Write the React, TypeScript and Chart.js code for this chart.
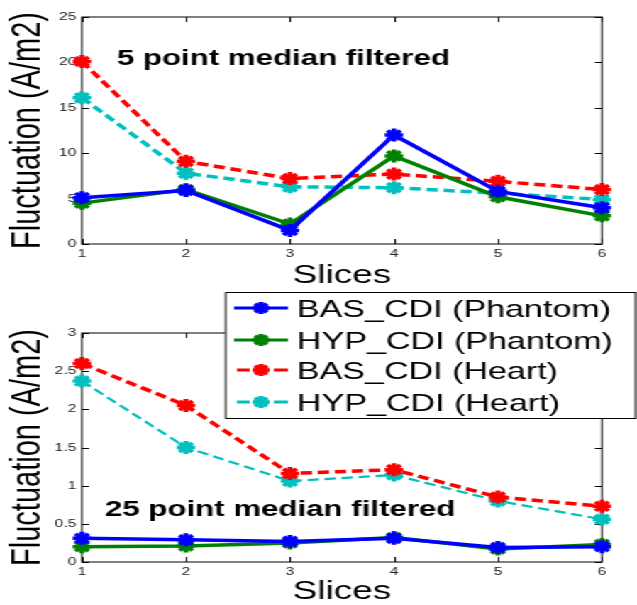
import React, { useEffect, useRef } from "react";
import { Chart, registerables } from "chart.js";

Chart.register(...registerables);

const slices = ["1", "2", "3", "4", "5", "6"];
const seriesNames = ["BAS_CDI (Phantom)", "HYP_CDI (Phantom)", "BAS_CDI (Heart)", "HYP_CDI (Heart)"];
const seriesColors = ["#0000FF", "#008000", "#FF0000", "#00BFBF"];

// 5 point median filtered
const bas5Phantom = [5.1, 5.9, 1.5, 12.0, 5.8, 4.0];
const hyp5Phantom = [4.5, 6.0, 2.2, 9.7, 5.2, 3.1];
const bas5Heart = [20.1, 9.1, 7.2, 7.7, 6.9, 6.0];
const hyp5Heart = [16.1, 7.8, 6.3, 6.2, 5.6, 4.9];

// 25 point median filtered
const bas25Phantom = [0.31, 0.29, 0.27, 0.31, 0.19, 0.2];
const hyp25Phantom = [0.2, 0.21, 0.25, 0.32, 0.17, 0.23];
const bas25Heart = [2.6, 2.05, 1.16, 1.21, 0.85, 0.73];
const hyp25Heart = [2.37, 1.5, 1.06, 1.14, 0.8, 0.56];

const W = 449;
const SX = 637 / W;
const FONT = "'Liberation Sans', Arial, sans-serif";

function makeDatasets(vals: number[][], cyanWidth: number) {
  return vals.map((v, i) => ({
    label: seriesNames[i],
    data: v,
    borderColor: seriesColors[i],
    backgroundColor: seriesColors[i],
    borderWidth: i === 3 ? cyanWidth : 3.5,
    borderDash: i >= 2 ? [8, 4] : [],
    pointStyle: "star" as const,
    pointRadius: 6.5,
    pointBorderWidth: 3.5,
    pointBorderColor: seriesColors[i],
    pointBackgroundColor: seriesColors[i],
    clip: false as const,
    tension: 0,
  }));
}

const framePlugin = {
  id: "frame",
  beforeDatasetsDraw(chart: any) {
    const { ctx, chartArea: a, scales } = chart;
    ctx.save();
    ctx.strokeStyle = "#000";
    ctx.lineWidth = 1;
    ctx.strokeRect(a.left, a.top, a.right - a.left, a.bottom - a.top);
    ctx.beginPath();
    const ys = scales.y;
    ys.ticks.forEach((t: any) => {
      const y = Math.round(ys.getPixelForValue(t.value)) + 0.5;
      ctx.moveTo(a.left, y);
      ctx.lineTo(a.left + 5, y);
      ctx.moveTo(a.right, y);
      ctx.lineTo(a.right - 5, y);
    });
    const xs = scales.x;
    slices.forEach((_, i) => {
      const x = Math.round(xs.getPixelForValue(i)) + 0.5;
      ctx.moveTo(x, a.bottom);
      ctx.lineTo(x, a.bottom - 5);
      ctx.moveTo(x, a.top);
      ctx.lineTo(x, a.top + 5);
    });
    ctx.stroke();
    ctx.restore();
  },
};

function annotationPlugin(text: string, x: number, y: number) {
  return {
    id: "annot",
    afterDatasetsDraw(chart: any) {
      const ctx = chart.ctx;
      ctx.save();
      ctx.font = `bold 22px ${FONT}`;
      ctx.fillStyle = "#000";
      ctx.textBaseline = "alphabetic";
      ctx.fillText(text, x, y);
      ctx.restore();
    },
  };
}

const legendPlugin = {
  id: "customLegend",
  afterDraw(chart: any) {
    const ctx = chart.ctx;
    ctx.save();
    const x0 = 158.6, y0 = 7, x1 = 448.5, y1 = 134;
    ctx.fillStyle = "#fff";
    ctx.fillRect(x0, y0, x1 - x0, y1 - y0);
    ctx.strokeStyle = "#000";
    ctx.lineWidth = 1;
    ctx.strokeRect(x0 + 0.5, y0 + 0.5, x1 - x0 - 1, y1 - y0 - 1);
    const rows = [23, 55, 85, 117];
    rows.forEach((cy, i) => {
      ctx.strokeStyle = seriesColors[i];
      ctx.lineWidth = 3;
      ctx.beginPath();
      if (i < 2) {
        ctx.moveTo(165, cy);
        ctx.lineTo(203, cy);
      } else {
        ctx.moveTo(167, cy);
        ctx.lineTo(176, cy);
        ctx.moveTo(193, cy);
        ctx.lineTo(203, cy);
      }
      ctx.stroke();
      const r = 6;
      ctx.lineWidth = 3.5;
      ctx.beginPath();
      for (let k = 0; k < 4; k++) {
        const ang = (k * Math.PI) / 4;
        const dx = Math.cos(ang) * r, dy = Math.sin(ang) * r;
        ctx.moveTo(184 - dx, cy - dy);
        ctx.lineTo(184 + dx, cy + dy);
      }
      ctx.stroke();
      ctx.fillStyle = "#000";
      ctx.font = `24px ${FONT}`;
      ctx.textBaseline = "alphabetic";
      ctx.fillText(seriesNames[i], 209.3, cy + 8.5);
    });
    ctx.restore();
  },
};

function buildOptions(
  yMin: number,
  yMax: number,
  step: number,
  padTop: number,
  xHeight: number,
  titlePadBottom: number
): any {
  return {
    responsive: false,
    animation: false,
    layout: { padding: { left: 0, right: W - 424.3, top: padTop, bottom: 0 } },
    plugins: { legend: { display: false }, tooltip: { enabled: false } },
    scales: {
      x: {
        type: "category",
        offset: false,
        grid: { display: false, drawTicks: false },
        border: { display: false },
        ticks: { color: "#222", font: { family: FONT, size: 11 }, padding: 3, maxRotation: 0 },
        title: {
          display: true,
          text: "Slices",
          color: "#000",
          font: { family: FONT, size: 26, lineHeight: 1 },
          padding: { top: 0, bottom: titlePadBottom },
        },
        afterFit(scale: any) {
          scale.height = xHeight;
        },
      },
      y: {
        min: yMin,
        max: yMax,
        grid: { display: false, drawTicks: false },
        border: { display: false },
        ticks: {
          stepSize: step,
          color: "#222",
          font: { family: FONT, size: 11 },
          padding: 4,
          callback: (v: any) => String(Number(v)),
        },
        title: {
          display: true,
          text: "Fluctuation (A/m2)",
          color: "#000",
          font: { family: FONT, size: 29, lineHeight: 1 },
          padding: { top: 5, bottom: 0 },
        },
        afterFit(scale: any) {
          scale.width = 57.8;
        },
      },
    },
  };
}

export default function App() {
  const topRef = useRef<HTMLCanvasElement>(null);
  const botRef = useRef<HTMLCanvasElement>(null);

  useEffect(() => {
    const c1 = new Chart(topRef.current as HTMLCanvasElement, {
      type: "line",
      data: {
        labels: slices,
        datasets: makeDatasets([bas5Phantom, hyp5Phantom, bas5Heart, hyp5Heart], 3.5) as any,
      },
      options: buildOptions(0, 25, 5, 17, 46, 1),
      plugins: [framePlugin, annotationPlugin("5 point median filtered", 82.4, 65)],
    });
    const c2 = new Chart(botRef.current as HTMLCanvasElement, {
      type: "line",
      data: {
        labels: slices,
        datasets: makeDatasets([bas25Phantom, hyp25Phantom, bas25Heart, hyp25Heart], 2.2) as any,
      },
      options: buildOptions(0, 3, 0.5, 48, 43, 0),
      plugins: [framePlugin, annotationPlugin("25 point median filtered", 74, 230.7), legendPlugin],
    });
    return () => {
      c1.destroy();
      c2.destroy();
    };
  }, []);

  return (
    <div
      style={{
        position: "fixed",
        left: 0,
        top: 0,
        width: W,
        height: 605,
        background: "#fff",
        transform: `scaleX(${SX})`,
        transformOrigin: "0 0",
      }}
    >
      <canvas ref={topRef} width={W} height={290} style={{ position: "absolute", left: 0, top: 0 }} />
      <canvas ref={botRef} width={W} height={320} style={{ position: "absolute", left: 0, top: 285 }} />
    </div>
  );
}
